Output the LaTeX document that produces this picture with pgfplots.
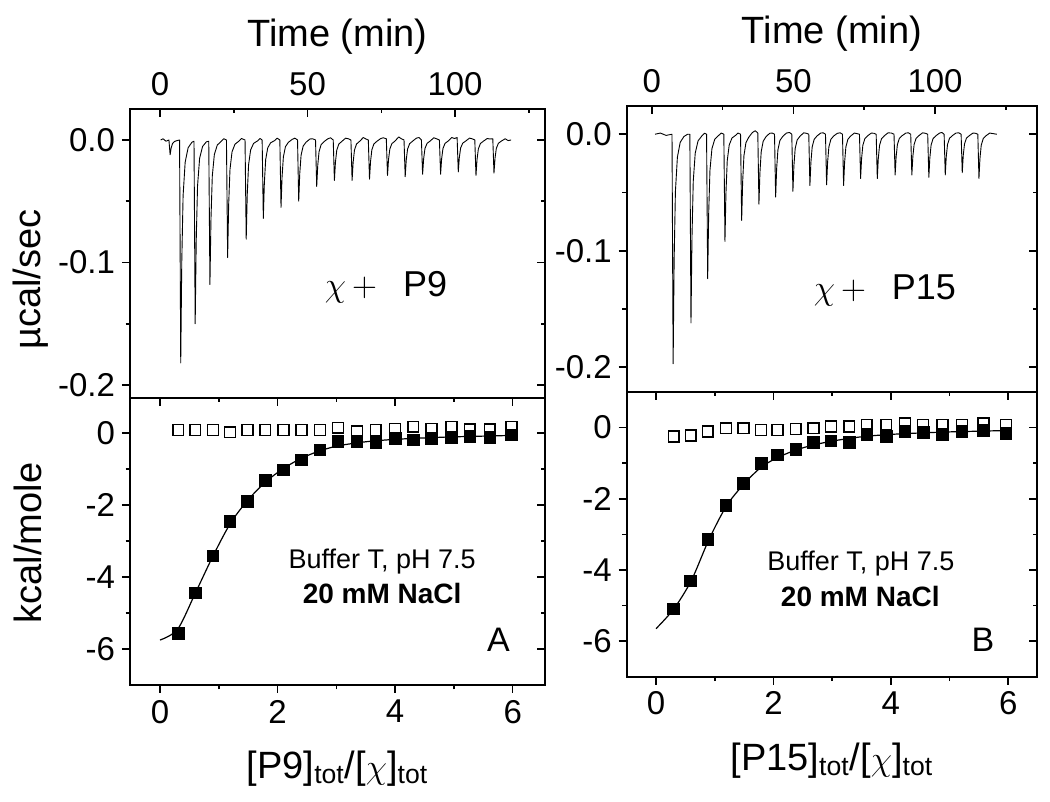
\documentclass[border=0pt]{standalone}
\usepackage{pgfplots}
\pgfplotsset{compat=1.18}
\usepackage{fontspec}
\setmainfont{Liberation Sans}

\newcommand{\tickfont}{\fontsize{16.5}{19}\selectfont}
\newcommand{\labfont}{\fontsize{19}{22}\selectfont}

\pgfplotsset{
  itc/.style={scale only axis, anchor=south west,
    axis line style={line width=0.9pt},
    major tick length=4pt, minor tick length=2.2pt,
    every tick/.style={black, line width=0.8pt},
    tick label style={font=\tickfont},
    label style={font=\labfont}},
  trace/.style={black, line width=0.45pt, line join=round},
  fit/.style={black, line width=0.6pt, smooth},
  filled/.style={only marks, mark=square*, mark size=2.9pt, mark options={fill=black, draw=black, line width=0.4pt}},
  open/.style={only marks, mark=square, mark size=2.7pt, mark options={draw=black, line width=0.75pt}},
}

\begin{document}
\begin{tikzpicture}
\useasboundingbox (0,0) rectangle (525pt,401pt);

%================ LEFT TOP =================
\begin{axis}[itc, at={(65pt,202pt)}, width=207.5pt, height=144.5pt,
  xmin=-10.2, xmax=130.5, ymin=-0.2106, ymax=0.0253,
  xtick=\empty, ytick={-0.2,-0.1,0}, yticklabels={-0.2,-0.1,0.0},
  minor ytick={-0.15,-0.05}, ytick pos=left, tick align=outside,
  ylabel={µcal/sec}, ylabel style={at={(axis description cs:-0.2386,0.41)}, anchor=center}]
\addplot[trace] coordinates {
(0.2,0)(1.0,0.001)(2.0,-0.001)
(3.0,0)(3.4,-0.012)(3.75,-0.0066)(4.2,-0.003)(4.9,-0.0012)(5.9,-0.0004)
(6.6,0)(7.0,-0.182)(7.35,-0.1)(7.8,-0.0455)(8.5,-0.0182)(9.5,-0.0064)(10.8,-0.0018)
(11.5,-0.001)(11.9,-0.150)(12.25,-0.0825)(12.7,-0.0375)(13.4,-0.015)(14.4,-0.0053)(15.7,-0.0015)
(16.5,-0.001)(16.9,-0.118)(17.25,-0.0649)(17.7,-0.0295)(18.4,-0.0118)(19.4,-0.0041)(20.7,-0.0012)(21.6,0.001)
(22.5,0)(22.9,-0.096)(23.25,-0.0528)(23.7,-0.024)(24.4,-0.0096)(25.4,-0.0034)(26.7,-0.001)(27.6,0.0012)
(28.8,0)(29.2,-0.081)(29.55,-0.0446)(30.0,-0.0203)(30.7,-0.0081)(31.7,-0.0028)(33.0,-0.0008)(33.9,0.0012)
(34.6,0)(35.0,-0.064)(35.35,-0.0352)(35.8,-0.016)(36.5,-0.0064)(37.5,-0.0022)(38.8,-0.0006)(39.7,0.0015)
(40.6,0)(41.0,-0.055)(41.35,-0.0303)(41.8,-0.0138)(42.5,-0.0055)(43.5,-0.0019)(44.8,0.0005)(45.7,0.0015)
(46.6,0)(47.0,-0.050)(47.35,-0.0275)(47.8,-0.0125)(48.5,-0.005)(49.5,-0.0018)(50.8,0.0008)(51.7,0.001)
(52.7,0)(53.1,-0.038)(53.45,-0.0209)(53.9,-0.0095)(54.6,-0.0038)(55.6,-0.0013)(56.9,0.001)(57.8,0.0018)
(58.7,0)(59.1,-0.033)(59.45,-0.0182)(59.9,-0.0083)(60.6,-0.0033)(61.6,-0.0012)(62.9,0.0015)(63.8,0.001)
(64.7,0)(65.1,-0.033)(65.45,-0.0182)(65.9,-0.0083)(66.6,-0.0033)(67.6,-0.0012)(68.9,0.002)(69.8,0.0008)
(70.6,0)(71.0,-0.032)(71.35,-0.0176)(71.8,-0.008)(72.5,-0.0032)(73.5,-0.0011)(74.8,0.0012)(75.7,0.0018)
(76.7,0.001)(77.1,-0.029)(77.45,-0.016)(77.9,-0.0073)(78.6,-0.0029)(79.6,-0.001)(80.9,0.0025)(81.8,0.001)
(82.7,0)(83.1,-0.030)(83.45,-0.0165)(83.9,-0.0075)(84.6,-0.003)(85.6,-0.001)(86.9,0.0015)(87.8,0.002)
(88.6,0)(89.0,-0.028)(89.35,-0.0154)(89.8,-0.007)(90.5,-0.0028)(91.5,-0.001)(92.8,0.0018)(93.7,0.001)
(94.7,0)(95.1,-0.028)(95.45,-0.0154)(95.9,-0.007)(96.6,-0.0028)(97.6,-0.001)(98.9,0.002)(99.8,0.0012)
(100.7,0.002)(101.1,-0.026)(101.45,-0.0143)(101.9,-0.0065)(102.6,-0.0026)(103.6,-0.0009)(104.9,0.0015)(105.8,0.001)
(106.7,0)(107.1,-0.029)(107.45,-0.016)(107.9,-0.0073)(108.6,-0.0029)(109.6,-0.001)(110.9,0.0012)(111.8,0.0008)
(112.8,0.001)(113.2,-0.027)(113.55,-0.0149)(114.0,-0.0068)(114.7,-0.0027)(115.7,-0.0009)(117.0,0.001)(118.0,-0.0005)(119.0,0)
};
\node[font=\fontsize{18}{20}\selectfont] at (axis cs:76.6,-0.12) {$\chi$\,$+$\hspace{13pt}P9};
\end{axis}
\begin{axis}[itc, at={(65pt,202pt)}, width=207.5pt, height=144.5pt,
  xmin=-10.2, xmax=130.5, ymin=-0.2106, ymax=0.0253,
  xtick={0,50,100}, xticklabels={0,50,100}, minor xtick={25,75,125}, xtick pos=right, xticklabel pos=right,
  xticklabel style={yshift=3pt},
  ytick={-0.2,-0.1,0}, minor ytick={-0.15,-0.05}, ytick pos=right, yticklabels={},
  tick align=inside, xlabel={Time (min)}, xlabel style={yshift=2pt}]
\end{axis}

%================ LEFT BOTTOM =================
\begin{axis}[itc, at={(65pt,58.5pt)}, width=207.5pt, height=143.5pt,
  xmin=-0.51, xmax=6.55, ymin=-7, ymax=0.98,
  xtick={0,2,4,6}, xticklabels={0,2,4,6}, minor xtick={1,3,5},
  ytick={-6,-4,-2,0}, yticklabels={-6,-4,-2,0}, minor ytick={-5,-3,-1},
  xtick pos=left, ytick pos=left, tick align=outside,
  xlabel={[P9]\textsubscript{tot}/[$\chi$]\textsubscript{tot}}, xlabel style={yshift=-7pt},
  ylabel={kcal/mole}, ylabel style={at={(axis description cs:-0.247,0.495)}, anchor=center}]
\addplot[open] coordinates {
(0.31,0.09)(0.60,0.09)(0.90,0.09)(1.19,0.03)(1.49,0.09)(1.79,0.09)(2.10,0.09)(2.41,0.09)(2.72,0.09)
(3.03,0.15)(3.35,0.05)(3.67,0.09)(4.00,0.12)(4.31,0.18)(4.62,0.12)(4.96,0.18)(5.27,0.1)(5.61,0.1)(5.98,0.17)};
\addplot[fit] coordinates {
(0,-5.75)(0.3,-5.45)(0.6,-4.45)(0.9,-3.42)(1.2,-2.5)(1.5,-1.85)(1.8,-1.35)(2.1,-0.98)(2.4,-0.7)(2.7,-0.5)
(3.0,-0.36)(3.3,-0.28)(3.6,-0.22)(4.0,-0.17)(4.5,-0.13)(5.0,-0.1)(5.5,-0.08)(6.0,-0.06)};
\addplot[filled] coordinates {
(0.31,-5.56)(0.60,-4.44)(0.90,-3.41)(1.19,-2.45)(1.49,-1.90)(1.79,-1.31)(2.10,-1.02)(2.41,-0.74)(2.72,-0.46)
(3.03,-0.23)(3.35,-0.23)(3.67,-0.26)(4.00,-0.14)(4.31,-0.19)(4.62,-0.14)(4.96,-0.11)(5.27,-0.09)(5.61,-0.11)(5.98,-0.05)};
\node[font=\fontsize{13.5}{15}\selectfont] at (axis cs:3.78,-3.58) {Buffer T, pH 7.5};
\node[font=\fontsize{14}{15}\selectfont\bfseries] at (axis cs:3.78,-4.46) {20 mM NaCl};
\node[font=\fontsize{17}{19}\selectfont] at (axis cs:5.76,-5.74) {A};
\end{axis}
\begin{axis}[itc, at={(65pt,58.5pt)}, width=207.5pt, height=143.5pt,
  xmin=-0.51, xmax=6.55, ymin=-7, ymax=0.98,
  xtick={0,2,4,6}, minor xtick={1,3,5}, ytick={-6,-4,-2,0}, minor ytick={-5,-3,-1},
  xtick pos=right, ytick pos=right, xticklabels={}, yticklabels={}, tick align=inside]
\end{axis}

%================ RIGHT TOP =================
\begin{axis}[itc, at={(313.35pt,205.15pt)}, width=205.15pt, height=143pt,
  xmin=-8.9, xmax=136, ymin=-0.221, ymax=0.0245,
  xtick=\empty, ytick={-0.2,-0.1,0}, yticklabels={-0.2,-0.1,0.0},
  minor ytick={-0.15,-0.05}, ytick pos=left, tick align=outside]
\addplot[trace] coordinates {
(1.1,0)(3.0,0.001)(5.0,-0.001)
(7.1,0)(7.5,-0.197)(7.85,-0.1084)(8.3,-0.0493)(9.0,-0.0197)(10.0,-0.0069)(11.3,-0.002)(12.6,0)
(13.4,0)(13.8,-0.162)(14.15,-0.0891)(14.6,-0.0405)(15.3,-0.0162)(16.3,-0.0057)(17.6,-0.0016)(18.6,0.0008)
(19.3,0)(19.7,-0.124)(20.05,-0.0682)(20.5,-0.031)(21.2,-0.0124)(22.2,-0.0043)(23.5,-0.0012)(24.5,0.001)
(25.4,0)(25.8,-0.092)(26.15,-0.0506)(26.6,-0.023)(27.3,-0.0092)(28.3,-0.0032)(29.6,-0.0009)(30.4,0.001)
(31.3,0)(31.7,-0.074)(32.05,-0.0407)(32.5,-0.0185)(33.2,-0.0074)(34.2,-0.0026)(35.5,0.0015)(36.5,0.003)
(37.4,0.001)(37.8,-0.060)(38.15,-0.033)(38.6,-0.015)(39.3,-0.006)(40.3,-0.0021)(41.6,0.0008)(42.5,0.001)
(43.3,0)(43.7,-0.054)(44.05,-0.0297)(44.5,-0.0135)(45.2,-0.0054)(46.2,-0.0019)(47.5,0.001)(48.6,0.0015)
(49.4,0)(49.8,-0.049)(50.15,-0.027)(50.6,-0.0123)(51.3,-0.0049)(52.3,-0.0017)(53.6,0.0012)(54.6,0.0008)
(55.4,0)(55.8,-0.044)(56.15,-0.0242)(56.6,-0.011)(57.3,-0.0044)(58.3,-0.0015)(59.6,0.001)(60.5,0.0012)
(61.3,0)(61.7,-0.0435)(62.05,-0.0239)(62.5,-0.0109)(63.2,-0.0044)(64.2,-0.0015)(65.5,0.0008)(66.5,0.0012)
(67.3,0)(67.7,-0.044)(68.05,-0.0242)(68.5,-0.011)(69.2,-0.0044)(70.2,-0.0015)(71.5,0.001)(72.5,0.0005)
(73.3,0)(73.7,-0.038)(74.05,-0.0209)(74.5,-0.0095)(75.2,-0.0038)(76.2,-0.0013)(77.5,0.001)(78.4,0.0008)
(79.2,0)(79.6,-0.038)(79.95,-0.0209)(80.4,-0.0095)(81.1,-0.0038)(82.1,-0.0013)(83.4,0.0012)(84.6,0.001)
(85.5,0)(85.9,-0.035)(86.25,-0.0193)(86.7,-0.0088)(87.4,-0.0035)(88.4,-0.0012)(89.7,0.001)(90.6,0.0012)
(91.4,0)(91.8,-0.035)(92.15,-0.0193)(92.6,-0.0088)(93.3,-0.0035)(94.3,-0.0012)(95.6,0.0012)(96.6,0.0008)
(97.4,0)(97.8,-0.037)(98.15,-0.0204)(98.6,-0.0093)(99.3,-0.0037)(100.3,-0.0013)(101.6,0.001)(102.4,0.0015)
(103.2,0)(103.6,-0.035)(103.95,-0.0193)(104.4,-0.0088)(105.1,-0.0035)(106.1,-0.0012)(107.4,0.001)(108.4,0.0012)
(109.2,0)(109.6,-0.033)(109.95,-0.0182)(110.4,-0.0083)(111.1,-0.0033)(112.1,-0.0012)(113.4,0.001)(114.3,0.0008)
(115.1,0)(115.5,-0.038)(115.85,-0.0209)(116.3,-0.0095)(117.0,-0.0038)(118.0,-0.0013)(119.3,0.001)(120.5,0.0005)(121.8,0)
};
\node[font=\fontsize{18}{20}\selectfont] at (axis cs:82.3,-0.134) {$\chi$\,$+$\hspace{13pt}P15};
\end{axis}
\begin{axis}[itc, at={(313.35pt,205.15pt)}, width=205.15pt, height=143pt,
  xmin=-8.9, xmax=136, ymin=-0.221, ymax=0.0245,
  xtick={0,50,100}, xticklabels={0,50,100}, minor xtick={25,75,125}, xtick pos=right, xticklabel pos=right,
  xticklabel style={yshift=3pt},
  ytick={-0.2,-0.1,0}, minor ytick={-0.15,-0.05}, ytick pos=right, yticklabels={},
  tick align=inside, xlabel={Time (min)}, xlabel style={yshift=2pt}]
\end{axis}

%================ RIGHT BOTTOM =================
\begin{axis}[itc, at={(313.35pt,62.65pt)}, width=205.15pt, height=142.5pt,
  xmin=-0.5, xmax=6.49, ymin=-7, ymax=1.01,
  xtick={0,2,4,6}, xticklabels={0,2,4,6}, minor xtick={1,3,5},
  ytick={-6,-4,-2,0}, yticklabels={-6,-4,-2,0}, minor ytick={-5,-3,-1},
  xtick pos=left, ytick pos=left, tick align=outside,
  xlabel={[P15]\textsubscript{tot}/[$\chi$]\textsubscript{tot}}, xlabel style={yshift=-7pt}]
\addplot[open] coordinates {
(0.30,-0.25)(0.59,-0.22)(0.88,-0.11)(1.19,-0.02)(1.49,-0.02)(1.79,-0.07)(2.07,-0.07)(2.38,-0.04)(2.68,-0.02)
(2.98,0.03)(3.29,0.03)(3.59,0.08)(3.92,0.08)(4.24,0.12)(4.55,0.08)(4.88,0.08)(5.21,0.08)(5.58,0.12)(5.96,0.08)};
\addplot[fit] coordinates {
(0,-5.65)(0.3,-5.1)(0.6,-4.3)(0.9,-3.15)(1.2,-2.2)(1.5,-1.58)(1.8,-1.1)(2.1,-0.82)(2.4,-0.62)(2.7,-0.48)
(3.0,-0.38)(3.3,-0.3)(3.6,-0.24)(4.0,-0.19)(4.5,-0.15)(5.0,-0.12)(5.5,-0.1)(6.0,-0.08)};
\addplot[filled] coordinates {
(0.30,-5.09)(0.59,-4.31)(0.88,-3.14)(1.19,-2.18)(1.49,-1.57)(1.79,-1.00)(2.07,-0.77)(2.38,-0.61)(2.68,-0.42)
(2.98,-0.37)(3.29,-0.42)(3.59,-0.19)(3.92,-0.25)(4.24,-0.11)(4.55,-0.14)(4.88,-0.19)(5.21,-0.11)(5.58,-0.07)(5.96,-0.16)};
\node[font=\fontsize{13.5}{15}\selectfont] at (axis cs:3.49,-3.81) {Buffer T, pH 7.5};
\node[font=\fontsize{14}{15}\selectfont\bfseries] at (axis cs:3.48,-4.74) {20 mM NaCl};
\node[font=\fontsize{17}{19}\selectfont] at (axis cs:5.57,-5.95) {B};
\end{axis}
\begin{axis}[itc, at={(313.35pt,62.65pt)}, width=205.15pt, height=142.5pt,
  xmin=-0.5, xmax=6.49, ymin=-7, ymax=1.01,
  xtick={0,2,4,6}, minor xtick={1,3,5}, ytick={-6,-4,-2,0}, minor ytick={-5,-3,-1},
  xtick pos=right, ytick pos=right, xticklabels={}, yticklabels={}, tick align=inside]
\end{axis}
\end{tikzpicture}
\end{document}
